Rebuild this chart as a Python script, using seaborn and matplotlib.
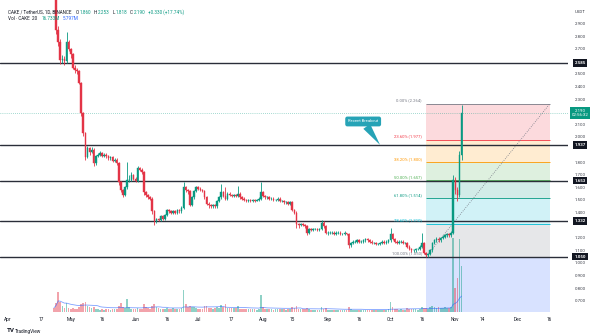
import matplotlib
matplotlib.use("Agg")
import matplotlib.pyplot as plt
import matplotlib.dates as mdates
from matplotlib.patches import Rectangle
from matplotlib.transforms import blended_transform_factory
import numpy as np
import pandas as pd
import seaborn as sns

sns.set_theme(style="white")
plt.rcParams["font.family"] = ["Roboto", "DejaVu Sans"]

# ---- daily CAKE/USDT candles (Binance), 23 Apr -> 4 Nov 2023 ----
first_day = "2023-04-23"
first_open = 3.34
closes = [
    3.22, 2.85, 2.75, 2.61, 2.62, 2.60, 2.75, 2.70, 2.66, 2.55,
    2.53, 2.52, 2.43, 2.19, 2.03, 1.84, 1.91, 1.88, 1.90, 1.79,
    1.85, 1.86, 1.87, 1.85, 1.86, 1.85, 1.83, 1.84, 1.81, 1.82,
    1.79, 1.64, 1.58, 1.54, 1.60, 1.66, 1.66, 1.70, 1.67, 1.65,
    1.75, 1.74, 1.72, 1.56, 1.54, 1.52, 1.51, 1.41, 1.33, 1.35,
    1.34, 1.37, 1.35, 1.38, 1.42, 1.41, 1.40, 1.41, 1.40, 1.42,
    1.41, 1.44, 1.60, 1.58, 1.57, 1.46, 1.52, 1.57, 1.60, 1.59,
    1.58, 1.57, 1.52, 1.47, 1.46, 1.45, 1.46, 1.45, 1.49, 1.52,
    1.56, 1.53, 1.51, 1.55, 1.54, 1.53, 1.54, 1.53, 1.55, 1.52,
    1.51, 1.50, 1.49, 1.50, 1.49, 1.50, 1.49, 1.50, 1.51, 1.56,
    1.53, 1.52, 1.52, 1.51, 1.51, 1.50, 1.50, 1.51, 1.49, 1.49,
    1.48, 1.48, 1.47, 1.48, 1.42, 1.40, 1.31, 1.30, 1.31, 1.30,
    1.29, 1.24, 1.27, 1.26, 1.27, 1.27, 1.26, 1.27, 1.32, 1.29,
    1.24, 1.24, 1.24, 1.24, 1.23, 1.24, 1.24, 1.23, 1.23, 1.24,
    1.23, 1.14, 1.16, 1.17, 1.17, 1.18, 1.17, 1.17, 1.18, 1.19,
    1.18, 1.17, 1.16, 1.16, 1.15, 1.15, 1.16, 1.17, 1.16, 1.17,
    1.18, 1.23, 1.19, 1.17, 1.16, 1.17, 1.17, 1.16, 1.16, 1.13,
    1.11, 1.10, 1.10, 1.11, 1.11, 1.13, 1.16, 1.08, 1.06, 1.07,
    1.10, 1.16, 1.18, 1.19, 1.18, 1.20, 1.21, 1.22, 1.23, 1.22,
    1.24, 1.66, 1.58, 1.54, 1.860, 2.190,
]
highs = [
    3.40, 3.24, 2.88, 2.78, 2.65, 2.64, 2.83, 2.77, 2.71, 2.67,
    2.57, 2.55, 2.53, 2.44, 2.20, 2.04, 1.93, 1.92, 1.92, 1.91,
    1.86, 1.87, 1.89, 1.88, 1.87, 1.87, 1.86, 1.85, 1.85, 1.83,
    1.83, 1.80, 1.65, 1.59, 1.61, 1.80, 1.70, 1.72, 1.71, 1.68,
    1.77, 1.76, 1.75, 1.73, 1.57, 1.55, 1.53, 1.52, 1.42, 1.36,
    1.36, 1.38, 1.38, 1.39, 1.43, 1.43, 1.42, 1.42, 1.42, 1.43,
    1.43, 1.45, 1.64, 1.61, 1.59, 1.58, 1.53, 1.58, 1.61, 1.61,
    1.60, 1.59, 1.58, 1.53, 1.48, 1.47, 1.47, 1.47, 1.50, 1.53,
    1.63, 1.57, 1.60, 1.56, 1.56, 1.55, 1.55, 1.55, 1.61, 1.56,
    1.53, 1.52, 1.51, 1.51, 1.51, 1.51, 1.51, 1.51, 1.52, 1.64,
    1.57, 1.54, 1.53, 1.53, 1.52, 1.52, 1.51, 1.52, 1.52, 1.50,
    1.50, 1.49, 1.49, 1.49, 1.49, 1.43, 1.41, 1.32, 1.32, 1.32,
    1.31, 1.30, 1.28, 1.28, 1.28, 1.28, 1.28, 1.28, 1.34, 1.33,
    1.30, 1.25, 1.25, 1.25, 1.25, 1.25, 1.25, 1.25, 1.24, 1.25,
    1.24, 1.24, 1.17, 1.18, 1.18, 1.19, 1.19, 1.18, 1.19, 1.20,
    1.20, 1.19, 1.18, 1.17, 1.17, 1.16, 1.17, 1.18, 1.18, 1.18,
    1.19, 1.28, 1.24, 1.20, 1.18, 1.18, 1.18, 1.18, 1.17, 1.17,
    1.14, 1.12, 1.11, 1.12, 1.12, 1.14, 1.24, 1.17, 1.09, 1.08,
    1.11, 1.17, 1.19, 1.21, 1.21, 1.21, 1.22, 1.23, 1.24, 1.24,
    1.25, 1.70, 1.68, 1.60, 1.89, 2.253,
]
lows = [
    3.18, 2.82, 2.72, 2.58, 2.59, 2.57, 2.59, 2.68, 2.63, 2.54,
    2.51, 2.50, 2.42, 2.17, 2.01, 1.82, 1.83, 1.86, 1.87, 1.77,
    1.78, 1.84, 1.85, 1.84, 1.84, 1.83, 1.82, 1.82, 1.80, 1.80,
    1.78, 1.62, 1.56, 1.52, 1.53, 1.59, 1.64, 1.65, 1.66, 1.64,
    1.64, 1.73, 1.71, 1.54, 1.52, 1.51, 1.50, 1.39, 1.30, 1.32,
    1.33, 1.33, 1.34, 1.34, 1.37, 1.40, 1.39, 1.39, 1.39, 1.39,
    1.40, 1.40, 1.43, 1.56, 1.55, 1.45, 1.45, 1.51, 1.56, 1.58,
    1.57, 1.56, 1.51, 1.46, 1.44, 1.44, 1.44, 1.44, 1.44, 1.48,
    1.51, 1.52, 1.50, 1.50, 1.53, 1.52, 1.52, 1.52, 1.52, 1.51,
    1.50, 1.49, 1.48, 1.48, 1.48, 1.48, 1.48, 1.49, 1.49, 1.50,
    1.52, 1.51, 1.51, 1.50, 1.50, 1.49, 1.49, 1.49, 1.48, 1.48,
    1.47, 1.47, 1.46, 1.46, 1.41, 1.39, 1.28, 1.28, 1.29, 1.29,
    1.28, 1.22, 1.23, 1.25, 1.25, 1.26, 1.25, 1.25, 1.26, 1.28,
    1.23, 1.22, 1.23, 1.23, 1.22, 1.22, 1.23, 1.22, 1.22, 1.22,
    1.22, 1.12, 1.13, 1.15, 1.16, 1.16, 1.16, 1.16, 1.16, 1.17,
    1.17, 1.16, 1.15, 1.15, 1.14, 1.14, 1.14, 1.15, 1.15, 1.15,
    1.16, 1.17, 1.18, 1.16, 1.15, 1.15, 1.16, 1.15, 1.15, 1.12,
    1.10, 1.09, 1.09, 1.09, 1.10, 1.10, 1.12, 1.07, 1.05, 1.05,
    1.06, 1.09, 1.15, 1.17, 1.17, 1.17, 1.19, 1.20, 1.21, 1.21,
    1.21, 1.23, 1.55, 1.49, 1.52, 1.818,
]
volumes_m = [
    1.5, 3.3, 7.3, 3.6, 2.2, 1.5, 3.3, 1.5, 1.1, 1.5,
    1.1, 1.1, 1.8, 2.9, 3.3, 3.6, 2.2, 1.8, 1.5, 1.8,
    1.1, 1.0, 0.9, 1.0, 0.9, 1.0, 1.1, 0.9, 1.0, 1.0,
    1.1, 2.2, 3.3, 1.8, 1.5, 4.7, 1.8, 1.2, 1.1, 1.0,
    1.5, 1.1, 1.0, 2.9, 1.8, 1.3, 1.1, 2.2, 2.9, 1.8,
    1.3, 1.2, 1.1, 1.2, 1.5, 1.2, 1.1, 1.3, 1.1, 1.2,
    1.1, 1.3, 8.0, 2.9, 1.8, 2.2, 1.8, 1.8, 1.5, 1.1,
    1.0, 1.1, 2.2, 2.2, 1.5, 1.4, 1.2, 1.3, 1.8, 1.5,
    2.5, 1.8, 2.9, 1.5, 1.3, 1.4, 1.5, 1.3, 2.2, 1.2,
    1.1, 1.0, 1.1, 1.1, 1.0, 1.1, 1.0, 0.9, 1.0, 6.2,
    1.8, 1.2, 1.1, 1.0, 1.1, 0.9, 1.0, 1.1, 1.0, 1.1,
    1.0, 0.9, 1.0, 1.1, 1.8, 1.5, 2.2, 1.2, 1.1, 1.0,
    1.1, 1.5, 1.0, 0.9, 0.8, 0.9, 0.8, 0.9, 1.8, 1.1,
    1.5, 0.9, 0.8, 0.8, 0.9, 0.8, 0.8, 0.9, 0.8, 0.8,
    0.9, 1.8, 1.0, 0.9, 0.8, 0.9, 0.8, 0.8, 0.9, 0.8,
    0.9, 0.8, 0.8, 0.8, 0.9, 0.8, 0.9, 0.8, 0.8, 0.9,
    1.0, 3.6, 1.8, 1.1, 1.0, 0.9, 1.0, 0.9, 0.9, 1.5,
    1.2, 1.1, 1.0, 1.0, 0.9, 1.1, 1.8, 1.5, 1.5, 1.1,
    1.8, 2.2, 1.8, 1.5, 1.8, 1.5, 1.6, 1.8, 1.5, 1.4,
    1.7, 27.0, 8.7, 12.4, 26.6, 16.733,
]

# horizontal support / resistance lines
key_levels = [2.585, 1.937, 1.653, 1.332, 1.050]

# Fibonacci retracement drawn from the October low to the breakout high
fib_high = 2.264
fib_low = 1.050
fib_ratios = [0.0, 0.236, 0.382, 0.5, 0.618, 0.786, 1.0]
fib_colors = ["#787b86", "#f23645", "#ff9800", "#4caf50", "#089981", "#00bcd4", "#787b86"]
fib_ext_color = "#2962ff"
fib_start = "2023-10-18"
fib_end = "2023-12-16 06:00"

tick_dates = ["2023-04-01", "2023-04-17", "2023-05-01", "2023-05-16", "2023-06-01",
              "2023-06-16", "2023-07-01", "2023-07-17", "2023-08-01", "2023-08-15",
              "2023-09-01", "2023-09-16", "2023-10-01", "2023-10-16", "2023-11-01",
              "2023-11-14", "2023-12-01", "2023-12-16"]
tick_labels = ["Apr", "17", "May", "16", "Jun", "16", "Jul", "17", "Aug", "15",
               "Sep", "16", "Oct", "16", "Nov", "14", "Dec", "16"]

callout_text = "Recent Breakout"
callout_tip = ("2023-09-26", 1.937)
callout_box = ("2023-09-17 22:00", 2.123)
countdown = "02:56:32"

UP = "#089981"
DOWN = "#e33446"
INK = "#131722"

# ---- frame ----
dates = pd.date_range(first_day, periods=len(closes), freq="D")
df = pd.DataFrame({
    "date": dates,
    "open": [first_open] + closes[:-1],
    "high": highs,
    "low": lows,
    "close": closes,
    "volume": volumes_m,
})
df["x"] = mdates.date2num(df["date"])
df["up"] = df["close"] >= df["open"]
df["vol_ma"] = df["volume"].rolling(20, min_periods=1).mean()

W, H = 600, 334
fig = plt.figure(figsize=(W / 100, H / 100), dpi=100, facecolor="white")
plot_right, plot_bottom = 568, 312
ax_vol = fig.add_axes([0, 1 - plot_bottom / H, plot_right / W, plot_bottom / H])
ax = ax_vol.twinx()
ax.set_zorder(ax_vol.get_zorder() + 1)
ax.patch.set_visible(False)

ymin, ymax = 0.611, 3.087
ax_vol.set_xlim(mdates.date2num(pd.Timestamp("2023-03-28 04:00")),
                mdates.date2num(pd.Timestamp("2023-12-24 22:00")))
ax.set_ylim(ymin, ymax)
ax_vol.set_ylim(0, 113.6)

# ---- Fibonacci zones (behind volume) ----
fx0 = mdates.date2num(pd.Timestamp(fib_start))
fx1 = mdates.date2num(pd.Timestamp(fib_end))
fib_levels = [fib_high - r * (fib_high - fib_low) for r in fib_ratios]
for i in range(1, len(fib_levels)):
    ax_vol.add_patch(Rectangle((fx0, fib_levels[i]), fx1 - fx0, fib_levels[i - 1] - fib_levels[i],
                               transform=ax.transData, facecolor=fib_colors[i], alpha=0.18,
                               lw=0, zorder=0.5))
ax_vol.add_patch(Rectangle((fx0, ymin), fx1 - fx0, fib_low - ymin, transform=ax.transData,
                           facecolor=fib_ext_color, alpha=0.18, lw=0, zorder=0.5))

# ---- volume pane ----
vol_colors = np.where(df["up"], UP, DOWN)
ax_vol.bar(df["x"], df["volume"], width=0.8, color=vol_colors, alpha=0.45, lw=0, zorder=1)
sns.lineplot(x=df["x"], y=df["vol_ma"], ax=ax_vol, color="#2962ff", lw=0.6, alpha=0.6,
             zorder=2, legend=False)
ax_vol.set_xlabel("")
ax_vol.set_ylabel("")
ax_vol.set_yticks([])

# ---- fib lines, labels, diagonal ----
ax.hlines(fib_levels, fx0, fx1, colors=fib_colors, lw=0.6, zorder=2)
for r, lvl, c in zip(fib_ratios, fib_levels, fib_colors):
    ax.annotate(f"{r * 100:.2f}% ({lvl:.3f})", xy=(fx0, lvl), xytext=(-3, 1),
                textcoords="offset points", ha="right", va="bottom", fontsize=3, color=c)
ax.plot([fx0, fx1], [fib_low, fib_high], color="#787b86", lw=0.6, ls=(0, (1, 1.6)), zorder=2)

# ---- key levels and current price line ----
for lvl in key_levels:
    ax.axhline(lvl, color="#2a2e39", lw=1.0, zorder=2.5)
ax.axhline(closes[-1], color=UP, lw=0.5, ls=(0, (1, 2)), alpha=0.7, zorder=2.5)

# ---- candles ----
colors = np.where(df["up"], UP, DOWN)
ax.vlines(df["x"], df["low"], df["high"], colors=colors, lw=0.6, zorder=3)
ax.bar(df["x"], df["close"] - df["open"], bottom=df["open"], width=0.75, color=colors,
       edgecolor=colors, lw=0.3, zorder=4)

# ---- callout ----
ax.annotate(callout_text,
            xy=(mdates.date2num(pd.Timestamp(callout_tip[0])), callout_tip[1]),
            xytext=(mdates.date2num(pd.Timestamp(callout_box[0])), callout_box[1]),
            fontsize=3, color="white", ha="center", va="center", zorder=12,
            bbox=dict(boxstyle="round,pad=0.7,rounding_size=0.5", fc="#26a3b6", ec="none"),
            arrowprops=dict(arrowstyle="wedge,tail_width=1.0,shrink_factor=0.5",
                            fc="#26a3b6", ec="none", mutation_scale=6,
                            shrinkA=0, shrinkB=0))

# ---- axes styling ----
for a in (ax, ax_vol):
    for s in a.spines.values():
        s.set_visible(False)
    a.grid(False)

# price scale: skip round labels that sit under a tag
tagged = key_levels + [closes[-1]]
price_ticks = [v for v in np.round(np.arange(0.7, 2.95, 0.1), 1)
               if min(abs(v - t) for t in tagged) > 0.045]
ax.set_yticks(price_ticks)
ax.set_yticklabels([f"{v:.3f}" for v in price_ticks])
ax.tick_params(axis="y", length=0, pad=5, labelsize=3.2, labelcolor="#3b3e48")

ax_vol.set_xticks(mdates.date2num(pd.to_datetime(tick_dates)))
ax_vol.set_xticklabels(tick_labels)
ax_vol.tick_params(axis="x", length=0, pad=3.5, labelsize=3.4, labelcolor=INK)

# price scale tags
lab_tr = blended_transform_factory(fig.transFigure, ax.transData)
for lvl in key_levels:
    ax.text(580 / W, lvl, f"{lvl:.3f}", transform=lab_tr, ha="center", va="center",
            fontsize=3.2, color="white", fontweight="bold", clip_on=False, zorder=10,
            bbox=dict(boxstyle="square,pad=0.4", fc=INK, ec="none"))
ax.annotate(f"{closes[-1]:.3f}\n{countdown}", xy=(580 / W, closes[-1]), xycoords=lab_tr,
            xytext=(0, 3), textcoords="offset points", ha="center", va="top",
            fontsize=3.2, color="white", linespacing=1.1, annotation_clip=False, zorder=10,
            bbox=dict(boxstyle="square,pad=0.4", fc=UP, ec="none"))
fig.text(575 / W, 1 - 12 / H, "USDT", fontsize=3.2, color="#3b3e48", ha="left", va="center")

# ---- legend lines at top-left ----
renderer = fig.canvas.get_renderer()


def text_run(x_px, y_px, parts, size):
    x = x_px
    for s, c, gap in parts:
        t = fig.text(x / W, 1 - y_px / H, s, fontsize=size, color=c, ha="left", va="center")
        x = t.get_window_extent(renderer).x1 + gap


last = df.iloc[-1]
prev_close = df["close"].iloc[-2]
chg = last["close"] - prev_close
val_c = UP if last["up"] else DOWN
text_run(8, 12, [
    ("CAKE / TetherUS, 1D, BINANCE", INK, 4),
    ("O", INK, 0.5), (f"{last['open']:.3f}", val_c, 3),
    ("H", INK, 0.5), (f"{last['high']:.3f}", val_c, 3),
    ("L", INK, 0.5), (f"{last['low']:.3f}", val_c, 3),
    ("C", INK, 0.5), (f"{last['close']:.3f}", val_c, 3),
    (f"{chg:+.3f} ({chg / prev_close * 100:+.2f}%)", val_c, 0),
], 3.3)
text_run(8, 19, [
    ("Vol · CAKE  20", INK, 4),
    (f"{last['volume']:.3f}M", val_c, 3),
    (f"{last['vol_ma']:.3f}M", "#2962ff", 0),
], 3.3)

# TradingView mark
fig.text(7 / W, 1 - 331 / H, "TV", fontsize=4.5, fontweight="bold", color=INK, ha="left", va="center")
fig.text(15 / W, 1 - 331 / H, "TradingView", fontsize=3.4, color=INK, ha="left", va="center")

fig.savefig("out.png", dpi=100, facecolor="white")
